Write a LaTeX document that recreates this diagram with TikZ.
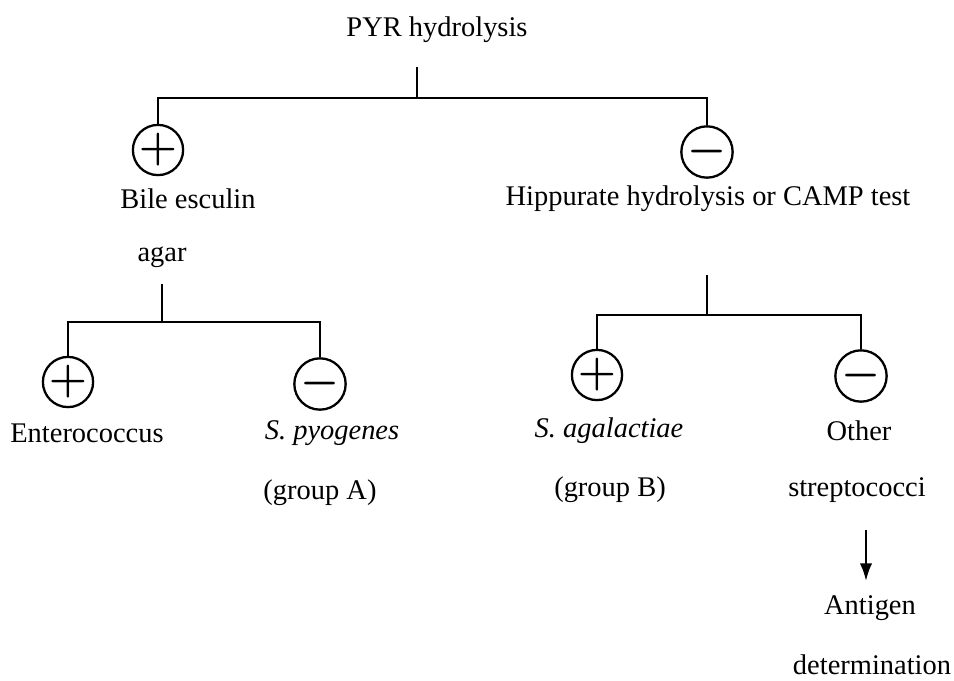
\documentclass[tikz,border=0pt]{standalone}
\usepackage{fontspec}
\setmainfont{Liberation Serif}
\usetikzlibrary{arrows.meta}

\tikzset{
  lbl/.style={inner sep=0pt,font=\fontsize{16.2}{19}\selectfont},
  sign/.style={draw,circle,line width=1.3pt,minimum size=0.82cm,inner sep=0pt,font=\fontsize{24}{24}\selectfont\boldmath},
  bar/.style={line width=1.5pt}
}

\begin{document}
\begin{tikzpicture}[x=0.02cm,y=-0.02cm]
\useasboundingbox (0,0) rectangle (954,680);
% first test
\node[lbl] (pyr) at (437,30) {PYR hydrolysis};
\coordinate (t1) at (417,67);
\coordinate (j1) at (417,98);
\node[sign] (p1) at (158,150) {$+$};
\node[sign] (m1) at (707,152) {$-$};
\draw[bar] (t1) -- (j1);
\draw[bar] (p1.north) |- (j1) -| (m1.north);
\node[lbl] (bile) at (188,199) {Bile esculin};
\node[lbl] (agar) at (162,257) {agar};
\node[lbl] (hipp) at (708,199) {Hippurate hydrolysis or CAMP test};

% bile esculin agar
\coordinate (t2) at (162,284);
\coordinate (j2) at (162,322);
\node[sign] (p2) at (68,382) {$+$};
\node[sign] (m2) at (320,384) {$-$};
\draw[bar] (t2) -- (j2);
\draw[bar] (p2.north) |- (j2) -| (m2.north);
\node[lbl] (ent) at (87,433) {Enterococcus};
\node[lbl] (pyo) at (332,433) {\textit{S. pyogenes}};
\node[lbl] (grpA) at (320,493) {(group A)};

% hippurate / CAMP
\coordinate (t3) at (707,275);
\coordinate (j3) at (707,315);
\node[sign] (p3) at (597,375) {$+$};
\node[sign] (m3) at (861,376) {$-$};
\draw[bar] (t3) -- (j3);
\draw[bar] (p3.north) |- (j3) -| (m3.north);
\node[lbl] (aga) at (609,431) {\textit{S. agalactiae}};
\node[lbl] (grpB) at (610,490) {(group B)};
\node[lbl] (oth) at (859,431) {Other};
\node[lbl] (strep) at (857,490) {streptococci};

% antigen
\coordinate (a1) at (866,530);
\coordinate (a2) at (866,581);
\draw[line width=1.3pt,-{Latex[length=10pt,width=7pt]}] (a1) -- (a2);
\node[lbl] (ant) at (870,608) {Antigen};
\node[lbl] (det) at (872,665) {determination};
\end{tikzpicture}
\end{document}
